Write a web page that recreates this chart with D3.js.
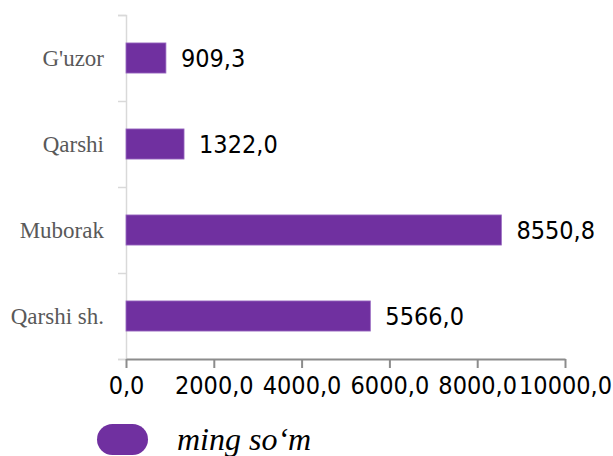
<!DOCTYPE html>
<html>
<head>
<meta charset="utf-8">
<script src="https://cdn.jsdelivr.net/npm/d3@7"></script>
<style>
  body { margin: 0; background: #fff; }
  .num { font-family: "DejaVu Sans Condensed", "DejaVu Sans", sans-serif; font-stretch: condensed; font-size: 25px; fill: #000; }
  .cat { font-family: "Liberation Serif", "Times New Roman", serif; font-size: 23px; fill: #595959; }
</style>
</head>
<body>
<div id="chart"></div>
<script>
// data
var categories = ["G'uzor", "Qarshi", "Muborak", "Qarshi sh."];
var values = [909.3, 1322.0, 8550.8, 5566.0];
var xTicks = [0, 2000, 4000, 6000, 8000, 10000];
var legendLabel = "ming so\u2018m";

var width = 613, height = 456;
var fmt = function(d) { return d3.format(".1f")(d).replace(".", ","); };

var svg = d3.select("#chart").append("svg")
    .attr("width", width)
    .attr("height", height);

// scales
var x = d3.scaleLinear().domain([0, 10000]).range([126, 565]);
var y = d3.scaleBand().domain(categories).range([15, 359])
    .paddingInner(0.65).paddingOuter(0.325);

// y axis (category separators)
var ySep = d3.scaleLinear().domain([0, categories.length]).range([15, 359]);
var yAxis = svg.append("g")
    .attr("transform", "translate(126,0)")
    .call(d3.axisLeft(ySep).ticks(categories.length).tickSize(8).tickFormat(""));
yAxis.select(".domain").attr("stroke", "#d9d9d9").attr("stroke-width", 1.5);
yAxis.selectAll(".tick line").attr("stroke", "#d9d9d9").attr("stroke-width", 1.5);

// x axis
var xAxis = svg.append("g")
    .attr("transform", "translate(0,359)")
    .call(d3.axisBottom(x).tickValues(xTicks).tickSize(9).tickSizeOuter(0).tickFormat(fmt));
xAxis.select(".domain").attr("stroke", "#8c8c8c").attr("stroke-width", 2);
xAxis.selectAll(".tick line").attr("stroke", "#8c8c8c").attr("stroke-width", 2);
xAxis.selectAll(".tick text")
    .attr("class", "num")
    .attr("y", 35)
    .attr("dy", 0);
xAxis.attr("font-family", null).attr("font-size", null);

// bars
svg.selectAll(".bar")
    .data(values)
  .enter().append("rect")
    .attr("class", "bar")
    .attr("x", x(0))
    .attr("y", function(d, i) { return y(categories[i]); })
    .attr("width", function(d) { return x(d) - x(0); })
    .attr("height", y.bandwidth())
    .attr("fill", "#7030a0")
    .attr("stroke", "#9a6cc2")
    .attr("stroke-width", 0.8);

// value labels
svg.selectAll(".val")
    .data(values)
  .enter().append("text")
    .attr("class", "num")
    .attr("x", function(d) { return x(d) + 15; })
    .attr("y", function(d, i) { return y(categories[i]) + y.bandwidth() / 2 + 9; })
    .text(fmt);

// category labels
svg.selectAll(".cat")
    .data(categories)
  .enter().append("text")
    .attr("class", "cat")
    .attr("x", 104)
    .attr("y", function(d) { return y(d) + y.bandwidth() / 2 + 8; })
    .attr("text-anchor", "end")
    .text(function(d) { return d; });

// legend
svg.append("rect")
    .attr("x", 97).attr("y", 424)
    .attr("width", 51).attr("height", 31)
    .attr("rx", 15.5)
    .attr("fill", "#7030a0");
svg.append("text")
    .attr("x", 177).attr("y", 450)
    .style("font-family", "'Liberation Serif', 'Times New Roman', serif")
    .style("font-style", "italic")
    .style("font-size", "32px")
    .attr("fill", "#000")
    .text(legendLabel);
</script>
</body>
</html>
